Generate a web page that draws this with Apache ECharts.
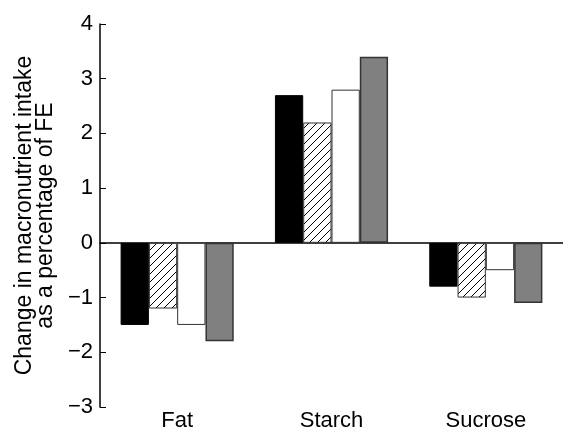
<!DOCTYPE html>
<html>
<head>
<meta charset="utf-8">
<script src="https://cdn.jsdelivr.net/npm/echarts@6/dist/echarts.min.js"></script>
<style>
  html, body { margin: 0; padding: 0; background: #fff; }
  #chart { width: 563px; height: 432px; }
</style>
</head>
<body>
<div id="chart"></div>
<script>
const categories = ['Fat', 'Starch', 'Sucrose']
const seriesBlack = [-1.5, 2.7, -0.8]
const seriesHatched = [-1.2, 2.2, -1.0]
const seriesWhite = [-1.5, 2.8, -0.5]
const seriesGrey = [-1.8, 3.4, -1.1]
const yTicks = { min: -3, max: 4, interval: 1 }

// hatch fill
function hatchPattern() {
  const c = document.createElement('canvas')
  c.width = 8
  c.height = 8
  const ctx = c.getContext('2d')
  ctx.fillStyle = '#fff'
  ctx.fillRect(0, 0, 8, 8)
  ctx.strokeStyle = '#000'
  ctx.lineWidth = 1
  ctx.beginPath()
  ctx.moveTo(-1, 9); ctx.lineTo(9, -1)
  ctx.moveTo(-1, 1); ctx.lineTo(1, -1)
  ctx.moveTo(7, 9); ctx.lineTo(9, 7)
  ctx.stroke()
  return c
}

const font = 'Liberation Sans, Arial, Helvetica, sans-serif'
const chart = echarts.init(document.getElementById('chart'))

const barBase = { type: 'bar', barGap: '0%', barCategoryGap: '26.7%', xAxisIndex: 0 }

chart.setOption({
  animation: false,
  grid: { left: 100, right: -12, top: 24, bottom: 18, containLabel: false },
  xAxis: [
    {
      type: 'category',
      data: categories,
      axisLine: { onZero: true, lineStyle: { color: '#000', width: 1.5 } },
      axisTick: { inside: true, length: 6, lineStyle: { color: '#000', width: 1 } },
      axisLabel: { show: false }
    },
    {
      type: 'category',
      data: categories,
      position: 'bottom',
      axisLine: { show: false },
      axisTick: { show: false },
      axisLabel: { margin: 3, color: '#000', fontSize: 22, fontFamily: font }
    }
  ],
  yAxis: {
    type: 'value',
    min: yTicks.min,
    max: yTicks.max,
    interval: yTicks.interval,
    name: 'Change in macronutrient intake\nas a percentage of FE',
    nameLocation: 'middle',
    nameRotate: 90,
    nameGap: 44,
    nameTextStyle: { color: '#000', fontSize: 23, lineHeight: 21, fontFamily: font },
    axisLine: { show: true, lineStyle: { color: '#000', width: 1.5 } },
    axisTick: { show: true, inside: true, length: 6, lineStyle: { color: '#000' } },
    axisLabel: {
      margin: 7, color: '#000', fontSize: 22, fontFamily: font,
      formatter: v => String(v).replace('-', '\u2212')
    },
    splitLine: { show: false }
  },
  series: [
    Object.assign({ data: seriesBlack, itemStyle: { color: '#000', borderColor: '#000', borderWidth: 1 } }, barBase),
    Object.assign({ data: seriesHatched, itemStyle: { color: { image: hatchPattern(), repeat: 'repeat' }, borderColor: '#333', borderWidth: 1 } }, barBase),
    Object.assign({ data: seriesWhite, itemStyle: { color: '#fff', borderColor: '#333', borderWidth: 1 } }, barBase),
    Object.assign({ data: seriesGrey, itemStyle: { color: '#808080', borderColor: '#333', borderWidth: 1.5 } }, barBase)
  ]
})
</script>
</body>
</html>
